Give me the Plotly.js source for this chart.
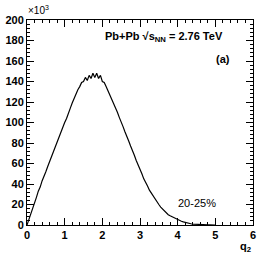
<!DOCTYPE html>
<html><head><meta charset="utf-8">
<script src="https://cdn.plot.ly/plotly-3.0.1.min.js"></script>
<style>html,body{margin:0;padding:0;background:#fff}</style>
</head><body><div id="chart" style="width:266px;height:253px"></div>
<script>
// q2 bin centres (step 0.05)
var q2 = [0.00,0.05,0.10,0.15,0.20,0.25,0.30,0.35,0.40,0.45,0.50,0.55,0.60,0.65,0.70,0.75,0.80,0.85,0.90,0.95,
  1.00,1.05,1.10,1.15,1.20,1.25,1.30,1.35,1.40,1.45,1.50,1.55,1.60,1.65,1.70,1.75,1.80,1.85,1.90,1.95,
  2.00,2.05,2.10,2.15,2.20,2.25,2.30,2.35,2.40,2.45,2.50,2.55,2.60,2.65,2.70,2.75,2.80,2.85,2.90,2.95,
  3.00,3.05,3.10,3.15,3.20,3.25,3.30,3.35,3.40,3.45,3.50,3.55,3.60,3.65,3.70,3.75,3.80,3.85,3.90,3.95,
  4.00,4.05,4.10,4.15,4.20,4.25,4.30,4.35,4.40,4.45,4.50,4.55,4.60,4.65,4.70,4.75,4.80,4.85,4.90,4.95,5.00];
// counts in units of 10^3
var counts = [0,5,11,16,22,27,33,37,43,47,52,57,62,66,72,76,81,86,90,96,
  100,104,110,114,119,124,128,132,135,139,140,144,141,146,143,148,144,148,143,146,
  140,139,135,131,127,122,118,114,110,105,101,96,91,87,82,77,73,68,63,59,
  55,50,45,42,38,34,31,28,25,22,20,17.5,15.5,13.5,11.5,10,9,8,7,6,
  5.2,4.4,3.7,3.0,2.4,1.9,1.5,1.2,0.95,0.75,0.6,0.45,0.35,0.27,0.2,0.15,0.1,0.07,0.05,0.03,0.02];

var F = 'Liberation Sans, Arial, sans-serif';
var trace = {x:q2, y:counts, type:'scatter', mode:'lines', line:{color:'#000', width:1.2}, hoverinfo:'skip'};
var axBase = {showgrid:false, zeroline:false, showline:true, linecolor:'#000', linewidth:1, mirror:'ticks',
  ticks:'inside', ticklen:7, tickcolor:'#000', tickwidth:1,
  tickfont:{family:F, size:11, color:'#000', weight:'bold'}};
var layout = {
  width:266, height:253, margin:{l:27, r:13, t:20, b:28},
  paper_bgcolor:'#fff', plot_bgcolor:'#fff', showlegend:false,
  xaxis:Object.assign({}, axBase, {range:[0,6], dtick:1, tick0:0,
    minor:{dtick:0.2, ticklen:3, ticks:'inside', tickcolor:'#000'}}),
  yaxis:Object.assign({}, axBase, {range:[0,200], dtick:20, tick0:0, ticklabelstandoff:0,
    minor:{dtick:4, ticklen:3, ticks:'inside', tickcolor:'#000'}}),
  annotations:[
    {xref:'paper', yref:'paper', x:0, y:1, xanchor:'left', yanchor:'bottom', xshift:-1, yshift:2, showarrow:false,
     text:'×10<sup>3</sup>', font:{family:F, size:10, color:'#000'}},
    {xref:'paper', yref:'paper', x:0.878, y:0.918, xanchor:'right', yanchor:'middle', showarrow:false,
     text:'<b>Pb+Pb √s<sub>NN</sub> = 2.76 TeV</b>', font:{family:F, size:11, color:'#000'}},
    {xref:'paper', yref:'paper', x:0.905, y:0.81, xanchor:'right', yanchor:'middle', showarrow:false,
     text:'<b>(a)</b>', font:{family:F, size:11, color:'#000'}},
    {xref:'paper', yref:'paper', x:0.75, y:0.105, xanchor:'center', yanchor:'middle', showarrow:false,
     text:'20-25%', font:{family:F, size:11, color:'#000'}},
    {xref:'paper', yref:'paper', x:1.0, y:0, xanchor:'right', yanchor:'top', yshift:-13, showarrow:false,
     text:'<b>q<sub>2</sub></b>', font:{family:F, size:11, color:'#000'}}
  ]
};
Plotly.newPlot('chart', [trace], layout, {displayModeBar:false, staticPlot:true});
</script></body></html>
